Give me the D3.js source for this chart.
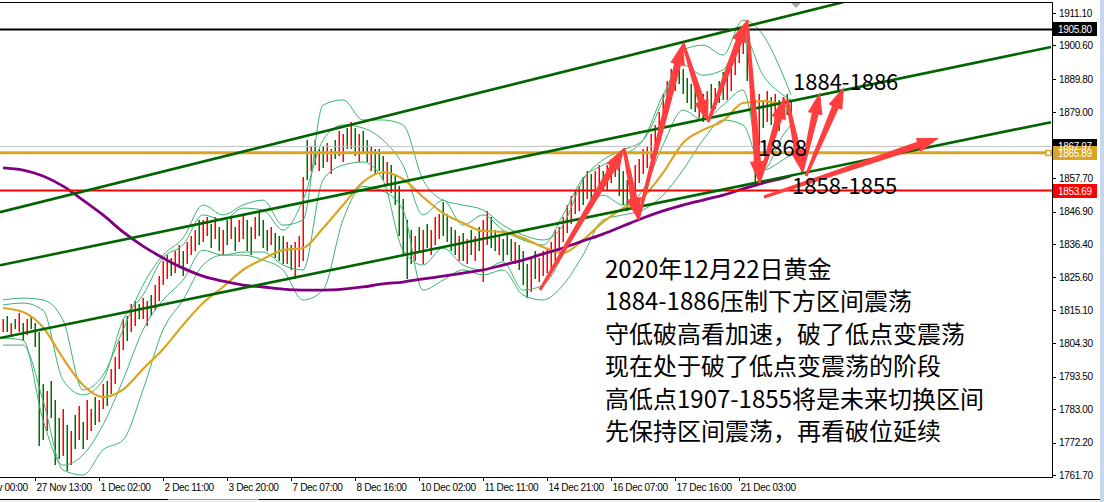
<!DOCTYPE html>
<html>
<head>
<meta charset="utf-8">
<script src="https://cdn.jsdelivr.net/npm/d3@7"></script>
<style>
    html, body { margin: 0; padding: 0; background: #fff; overflow: hidden; }
    svg { display: block; }
</style>
</head>
<body>
<div id="chart"></div>
<script>
// ---- price bars (one entry per bar) ----
var barHigh = [
    1812,1813,1811,1812,1814,1811,1812,1813,1811,1808,
    1791,1789,1792,1786,1780,1783,1778,1776,1781,1784,
    1779,1786,1783,1787,1786,1791,1792,1796,1800,1805,
    1812,1813,1817,1818,1817,1819,1818,1820,1823,1826,
    1831,1833,1832,1834,1836,1834,1837,1839,1841,1844,
    1844,1845,1843,1845,1842,1841,1844,1845,1842,1844,
    1846,1844,1842,1845,1847,1844,1841,1842,1840,1839,
    1839,1837,1836,1837,1839,1858,1870,1868,1870,1867,
    1868,1869,1867,1870,1873,1872,1874,1876,1874,1872,
    1873,1870,1868,1867,1867,1865,1863,1862,1859,1855,
    1851,1844,1841,1839,1842,1841,1843,1841,1845,1846,
    1850,1846,1842,1841,1839,1840,1838,1841,1839,1842,
    1844,1847,1845,1841,1839,1838,1840,1838,1837,1836,
    1834,1830,1832,1834,1832,1834,1835,1837,1841,1842,
    1845,1849,1852,1854,1855,1858,1860,1859,1860,1862,
    1860,1862,1864,1865,1864,1860,1857,1858,1862,1864,
    1867,1868,1872,1875,1879,1885,1889,1893,1895,1897,
    1893,1890,1888,1887,1886,1885,1886,1888,1887,1889,
    1892,1891,1896,1901,1904,1907,1903,1896,1883,1885,
    1883,1886,1884,1885,1883,1884,1885,1883
];
var barLow = [
    1808,1808,1807,1809,1808,1805,1807,1809,1803,1771,
    1773,1776,1780,1765,1767,1768,1763,1765,1770,1773,
    1770,1773,1776,1778,1779,1783,1784,1788,1791,1796,
    1802,1805,1808,1810,1812,1812,1810,1813,1815,1818,
    1823,1825,1826,1827,1829,1826,1830,1833,1834,1836,
    1837,1839,1835,1838,1834,1833,1836,1838,1834,1837,
    1838,1834,1833,1838,1839,1835,1834,1836,1832,1831,
    1830,1830,1828,1825,1829,1831,1857,1860,1862,1860,
    1861,1863,1859,1864,1865,1863,1867,1867,1865,1863,
    1866,1863,1860,1859,1860,1857,1855,1853,1849,1839,
    1833,1825,1830,1831,1834,1830,1835,1833,1836,1838,
    1839,1837,1834,1833,1831,1831,1830,1833,1831,1834,
    1824,1836,1835,1834,1833,1831,1833,1831,1830,1828,
    1823,1819,1821,1825,1824,1826,1827,1828,1831,1834,
    1837,1840,1843,1846,1847,1849,1851,1851,1852,1853,
    1854,1854,1856,1858,1852,1849,1847,1849,1851,1856,
    1859,1861,1864,1866,1870,1875,1880,1883,1886,1888,
    1885,1882,1880,1879,1877,1876,1878,1880,1880,1882,
    1883,1883,1886,1891,1895,1898,1889,1878,1855,1867,
    1874,1876,1875,1876,1873,1877,1878,1877
];
// r = up bar, g = down bar
var barDir =
    "rgrgrgrggg" + "grgggrgrgr" + "grrgrrgrrr" + "rgrrgrrgrr" + "rrgrrgrrrg" +
    "rrgrgrgrgr" + "rggrgggrgg" + "grgrrrgrgr" + "grrgrrgrgr" + "ggrgggrggg" +
    "gggrgrgrrr" + "ggggrgrgrg" + "rrggrgggrg" + "ggrgrrrrrr" + "rrrrrgrgrr" +
    "grrrggggrr" + "rrrrrrrrrg" + "ggggrgrgrg" + "grrrrrgggr" + "grgrgrgr";

// ---- indicators, read every 5 bars ----
var sampleBars = [0,5,10,15,20,25,30,35,40,45,50,55,60,65,70,75,80,85,90,95,
    100,105,110,115,120,125,130,135,140,145,150,155,160,165,170,175,180,185,190,195,197];
var bbOuterUp = [1818.3,1818.9,1818.3,1811.8,1789.2,1794.0,1808.6,1823.1,1832.8,1838.3,
    1849.0,1845.8,1849.0,1850.6,1842.5,1844.2,1881.3,1883.0,1876.5,1876.5,
    1874.9,1857.1,1850.6,1849.0,1847.4,1842.5,1839.3,1837.7,1842.5,1857.1,
    1863.6,1866.8,1870.0,1883.0,1899.1,1900.7,1897.5,1908.8,1904.0,1891.0,1884.6];
var bbOuterLo = [1803.7,1803.7,1785.9,1763.3,1761.7,1769.8,1773.0,1789.2,1808.6,1818.3,
    1829.6,1832.8,1832.8,1831.2,1828.0,1818.3,1821.5,1844.2,1855.0,1853.5,
    1847.4,1821.5,1824.7,1828.0,1826.4,1828.0,1819.9,1818.3,1823.1,1832.8,
    1844.2,1845.8,1847.4,1852.2,1860.3,1870.0,1876.5,1874.9,1860.3,1863.6,1865.2];
var bbInnerUp = [1816.7,1817.3,1815.0,1792.4,1787.6,1792.4,1811.8,1819.9,1831.9,1836.1,
    1845.8,1844.2,1848.0,1847.4,1840.9,1850.6,1870.0,1874.9,1873.9,1870.0,
    1861.9,1845.8,1850.6,1842.5,1845.8,1840.9,1837.7,1836.1,1845.8,1857.7,
    1861.9,1865.2,1870.0,1884.6,1894.3,1891.0,1892.7,1904.0,1891.0,1884.6,1883.0];
var bbInnerLo = [1806.0,1805.3,1779.5,1764.9,1768.2,1777.9,1792.4,1808.6,1818.3,1824.7,
    1834.4,1832.8,1833.8,1833.8,1829.6,1828.0,1857.1,1861.9,1862.9,1857.1,
    1834.4,1829.6,1835.1,1829.6,1828.0,1830.6,1821.5,1823.1,1832.8,1845.8,
    1852.2,1849.0,1853.9,1868.4,1879.7,1876.5,1881.3,1886.2,1860.3,1871.6,1874.9];
var maGold = [1815.7,1814.4,1809.5,1799.5,1790.8,1786.9,1789.3,1796.0,1802.4,1810.2,
    1817.3,1822.5,1828.0,1831.5,1834.4,1835.1,1841.5,1849.0,1856.4,1859.6,
    1857.4,1851.6,1846.4,1843.2,1840.6,1840.3,1838.3,1835.4,1833.5,1837.7,
    1843.5,1848.0,1851.5,1859.4,1869.1,1873.3,1876.2,1882.0,1882.6,1881.3,1880.4];
var maPurple = [1861.0,1860.3,1858.4,1855.1,1850.6,1845.8,1840.3,1835.7,1831.9,1828.6,
    1826.0,1824.4,1823.1,1822.5,1821.8,1821.5,1821.5,1821.8,1822.5,1823.5,
    1824.1,1825.1,1826.0,1827.0,1828.0,1829.6,1831.2,1833.2,1835.1,1837.4,
    1839.6,1842.2,1844.8,1847.1,1849.0,1850.6,1852.2,1854.2,1856.1,1857.7,1858.4];

// ---- drawn objects ----
var hLevels = [1905.80, 1867.97, 1865.89, 1853.69];
var channelFromBar = [0, 0, 0];
var channelFromPrice = [1846.7, 1829.5, 1806.0];
var channelToBar = [210, 262, 262];
var channelToPrice = [1914.6, 1900.1, 1875.8];

var arrowFromBar   = [134.25, 155.25, 158.75, 170, 176.25, 186, 189, 196, 199.75, 200.75, 190.25];
var arrowFromPrice = [1821.5, 1867.4, 1844.2, 1901.4, 1875.8, 1908.8, 1856.1, 1883.0, 1859.7, 1858.4, 1851.6];
var arrowToBar     = [155.25, 158.75, 170, 176.25, 186, 189, 195.5, 199.75, 204.25, 210.25, 234];
var arrowToPrice   = [1867.4, 1844.2, 1901.4, 1875.8, 1908.8, 1856.1, 1883.9, 1859.7, 1885.5, 1887.2, 1870.7];

var noteText = ["1884-1886", "1868", "1858-1855"];
var noteBar = [197.5, 188.75, 197.25];
var notePrice = [1886.2, 1864.7, 1852.6];

var commentLines = [
    "2020年12月22日黄金",
    "1884-1886压制下方区间震荡",
    "守低破高看加速，破了低点变震荡",
    "现在处于破了低点变震荡的阶段",
    "高低点1907-1855将是未来切换区间",
    "先保持区间震荡，再看破位延续"
];

// ---- axes labels ----
var yTicks = [1911.10,1900.60,1889.80,1879.00,1857.70,1846.90,1836.40,1825.60,
    1815.10,1804.30,1793.50,1783.00,1772.20,1761.70];
var timeTickBars = [-8, 8, 24, 40, 56, 72, 88, 104, 120, 136, 152, 168, 184];
var timeTickLabels = ["26 Nov 00:00", "27 Nov 13:00", "1 Dec 02:00", "2 Dec 11:00",
    "3 Dec 20:00", "7 Dec 07:00", "8 Dec 16:00", "10 Dec 02:00", "11 Dec 11:00",
    "14 Dec 21:00", "16 Dec 07:00", "17 Dec 16:00", "21 Dec 03:00"];

var W = 1104, H = 502;
var plotRight = 1052, plotTop = 3, plotBottom = 477;
var axisFont = "'Liberation Sans', Arial, sans-serif";
var noteFont = "'Noto Sans CJK SC', 'Noto Sans', sans-serif";

var svg = d3.select("#chart").append("svg")
    .attr("width", W)
    .attr("height", H);

svg.append("rect").attr("width", W).attr("height", H).attr("fill", "#fff");

var x = d3.scaleLinear().domain([0, 262]).range([3, 1051]);
var y = d3.scaleLinear().domain([1761.7, 1911.1]).range([475, 13]);

svg.append("defs").append("clipPath").attr("id", "plotClip")
    .append("rect")
    .attr("x", 0).attr("y", plotTop)
    .attr("width", plotRight).attr("height", plotBottom - plotTop);

var plot = svg.append("g").attr("clip-path", "url(#plotClip)");

// bars
var barColor = {r: "#ff0000", g: "#007000"};
plot.append("g")
    .selectAll("rect")
    .data(barHigh)
    .enter()
    .append("rect")
    .attr("x", function (d, i) { return Math.round(x(i)) - 0.5; })
    .attr("width", 1.5)
    .attr("y", function (d) { return Math.round(y(d)); })
    .attr("height", function (d, i) { return Math.max(1, Math.round(y(barLow[i])) - Math.round(y(d))); })
    .style("fill", function (d, i) { return barColor[barDir.charAt(i)]; });

// indicator lines
function seriesLine(values) {
    return d3.line()
        .x(function (d, i) { return x(sampleBars[i]); })
        .y(function (d) { return y(d); })
        .curve(d3.curveMonotoneX)(values);
}

[bbOuterUp, bbOuterLo, bbInnerUp, bbInnerLo].forEach(function (s) {
    plot.append("path")
        .attr("d", seriesLine(s))
        .attr("fill", "none")
        .attr("stroke", "#3cb371")
        .attr("stroke-width", 1);
});

plot.append("path")
    .attr("d", seriesLine(maGold))
    .attr("fill", "none")
    .attr("stroke", "#daa520")
    .attr("stroke-width", 2.2);

plot.append("path")
    .attr("d", seriesLine(maPurple))
    .attr("fill", "none")
    .attr("stroke", "#800080")
    .attr("stroke-width", 2.8);

// horizontal levels
var hStyle = [
    {color: "#000000", width: 2},
    {color: "#c0c0c0", width: 1},
    {color: "#daa520", width: 3},
    {color: "#ff0000", width: 2}
];
plot.append("g").selectAll("line")
    .data(hLevels)
    .enter()
    .append("line")
    .attr("x1", 0).attr("x2", plotRight)
    .attr("y1", function (d) { return y(d); })
    .attr("y2", function (d) { return y(d); })
    .attr("stroke", function (d, i) { return hStyle[i].color; })
    .attr("stroke-width", function (d, i) { return hStyle[i].width; });

// channel lines
plot.append("g").selectAll("line")
    .data(channelFromBar)
    .enter()
    .append("line")
    .attr("x1", function (d) { return x(d) - 3; })
    .attr("y1", function (d, i) { return y(channelFromPrice[i]); })
    .attr("x2", function (d, i) { return x(channelToBar[i]); })
    .attr("y2", function (d, i) { return y(channelToPrice[i]); })
    .attr("stroke", "#006400")
    .attr("stroke-width", 2.6);

// red arrows
function arrowPath(x1, y1, x2, y2) {
    var dx = x2 - x1, dy = y2 - y1;
    var len = Math.sqrt(dx * dx + dy * dy);
    var ux = dx / len, uy = dy / len, nx = -uy, ny = ux;
    var hl = Math.min(22, len * 0.35), hw = 7.5, sw = 3.5, tw = 1.5;
    var bx = x2 - ux * hl, by = y2 - uy * hl;
    var pts = [
        [x1 + nx * tw, y1 + ny * tw],
        [bx + nx * sw, by + ny * sw],
        [bx + nx * hw, by + ny * hw],
        [x2, y2],
        [bx - nx * hw, by - ny * hw],
        [bx - nx * sw, by - ny * sw],
        [x1 - nx * tw, y1 - ny * tw]
    ];
    return "M" + pts.map(function (p) { return p[0].toFixed(1) + "," + p[1].toFixed(1); }).join("L") + "Z";
}

plot.append("g").selectAll("path")
    .data(arrowFromBar)
    .enter()
    .append("path")
    .attr("d", function (d, i) {
        return arrowPath(x(d), y(arrowFromPrice[i]), x(arrowToBar[i]), y(arrowToPrice[i]));
    })
    .attr("fill", "#ff3f3f");

// text notes on the chart
plot.append("g").selectAll("text")
    .data(noteText)
    .enter()
    .append("text")
    .attr("x", function (d, i) { return x(noteBar[i]); })
    .attr("y", function (d, i) { return y(notePrice[i]); })
    .attr("font-family", noteFont)
    .attr("font-size", 22)
    .attr("fill", "#000")
    .text(function (d) { return d; });

plot.append("g").selectAll("text")
    .data(commentLines)
    .enter()
    .append("text")
    .attr("x", 605)
    .attr("y", function (d, i) { return 278 + i * 32.4; })
    .attr("font-family", noteFont)
    .attr("font-size", 24)
    .attr("fill", "#000")
    .text(function (d) { return d; });

// shift marker at the top
svg.append("path")
    .attr("d", "M791,3L801,3L796,8Z")
    .attr("fill", "#a8a8a8");

// frame
var frame = svg.append("g").attr("shape-rendering", "crispEdges").attr("stroke", "#000");
frame.append("line").attr("x1", 0).attr("x2", plotRight + 1).attr("y1", 2.5).attr("y2", 2.5);
frame.append("line").attr("x1", plotRight + 0.5).attr("x2", plotRight + 0.5).attr("y1", 2).attr("y2", plotBottom + 1);
frame.append("line").attr("x1", 0).attr("x2", plotRight + 1).attr("y1", plotBottom + 0.5).attr("y2", plotBottom + 0.5);

// price axis
var yAxis = svg.append("g")
    .attr("transform", "translate(" + (plotRight + 1) + ",0)")
    .call(d3.axisRight(y).tickValues(yTicks).tickFormat(d3.format(".2f"))
        .tickSize(3).tickSizeOuter(0).tickPadding(3));
yAxis.select(".domain").remove();
yAxis.attr("font-family", axisFont).attr("font-size", 10).attr("letter-spacing", "-0.35px");
yAxis.selectAll("line").attr("shape-rendering", "crispEdges");

// level boxes on the price axis
var boxFill = ["#000000", "#000000", "#daa520", "#ff0000"];
var boxes = svg.append("g");
boxes.selectAll("rect")
    .data(hLevels)
    .enter()
    .append("rect")
    .attr("x", plotRight + 1)
    .attr("y", function (d) { return Math.round(y(d)) - 7; })
    .attr("width", 44)
    .attr("height", 14)
    .attr("fill", function (d, i) { return boxFill[i]; });
boxes.selectAll("text")
    .data(hLevels)
    .enter()
    .append("text")
    .attr("x", plotRight + 6)
    .attr("y", function (d) { return Math.round(y(d)); })
    .attr("dy", "0.35em")
    .attr("font-family", axisFont)
    .attr("font-size", 10)
    .attr("letter-spacing", "-0.35px")
    .attr("fill", "#fff")
    .text(function (d) { return d3.format(".2f")(d); });
svg.append("rect")
    .attr("x", plotRight - 6).attr("y", Math.round(y(hLevels[2])) - 2.5)
    .attr("width", 5).attr("height", 5)
    .attr("fill", "#fff").attr("stroke", "#daa520").attr("stroke-width", 1.5);

// time axis
var xAxis = svg.append("g")
    .attr("transform", "translate(0," + (plotBottom + 1) + ")")
    .call(d3.axisBottom(x).tickValues(timeTickBars)
        .tickFormat(function (d, i) { return timeTickLabels[i]; })
        .tickSize(3).tickSizeOuter(0).tickPadding(3));
xAxis.select(".domain").remove();
xAxis.attr("font-family", axisFont).attr("font-size", 10).attr("letter-spacing", "-0.35px");
xAxis.selectAll("text").attr("text-anchor", "start").attr("x", 1);
xAxis.selectAll("line").attr("shape-rendering", "crispEdges");

// window edges
svg.append("rect").attr("x", 1100).attr("y", 0).attr("width", 4).attr("height", H).attr("fill", "#c9d7ec");
svg.append("rect").attr("x", 0).attr("y", 500).attr("width", 1100).attr("height", 2).attr("fill", "#f0f0f0");
var tabs = svg.append("g").attr("shape-rendering", "crispEdges");
tabs.append("line").attr("x1", 0).attr("x2", 168).attr("y1", 499.5).attr("y2", 499.5).attr("stroke", "#000");
tabs.append("line").attr("x1", 168).attr("x2", 259).attr("y1", 499.5).attr("y2", 499.5).attr("stroke", "#a0a0a0");
tabs.append("line").attr("x1", 259).attr("x2", 1100).attr("y1", 499.5).attr("y2", 499.5).attr("stroke", "#000");
</script>
</body>
</html>
